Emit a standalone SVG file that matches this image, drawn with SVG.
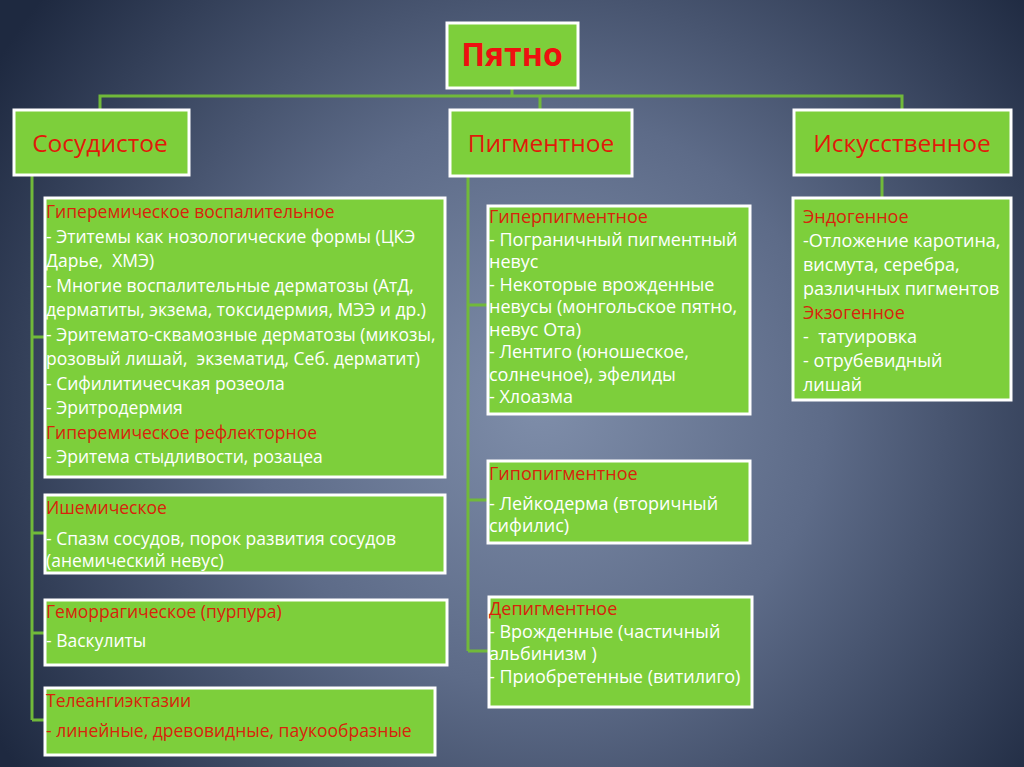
<svg xmlns="http://www.w3.org/2000/svg" width="1024" height="767" viewBox="0 0 1024 767">
<defs>
<radialGradient id="bg" cx="540" cy="400" r="640" gradientUnits="userSpaceOnUse">
<stop offset="0" stop-color="#7f8eaa"/>
<stop offset="0.45" stop-color="#5d6b88"/>
<stop offset="1" stop-color="#1e2940"/>
</radialGradient>
<style>
.box{fill:#7dcf3b;stroke:#ffffff;stroke-width:3}
.conn{fill:none;stroke:#71b93a;stroke-width:3}
.t{font-family:"Open Sans","Noto Sans",sans-serif;font-size:17.5px;fill:#ffffff;white-space:pre}
.m{font-size:18px}
.r{fill:#d8230b}
.head{font-family:"Open Sans","Noto Sans",sans-serif;font-size:24.5px;fill:#e01a0a;text-anchor:middle}
.title{font-family:"Open Sans","Noto Sans",sans-serif;font-size:32px;font-weight:bold;fill:#ee1010;text-anchor:middle}
</style>
</defs>
<rect x="0" y="0" width="1024" height="767" fill="url(#bg)"/>

<g id="connectors">
<path class="conn" d="M512 88 V96 M100 110 V96 H902 V110 M540 96 V110"/>
<path class="conn" d="M32 175 V720 M32 337 H46 M32 533 H46 M32 633 H46 M32 720 H46"/>
<path class="conn" d="M468 176 V651 M468 305 H489 M468 500 H489 M468 651 H489"/>
<path class="conn" d="M882 175 V198"/>
</g>

<g id="n-spot">
<rect class="box" x="447" y="23" width="131" height="65"/>
<text class="title" x="512" y="66">Пятно</text>
</g>

<g id="n-vascular">
<rect class="box" x="14" y="110" width="175" height="65"/>
<text class="head" x="100" y="152">Сосудистое</text>
</g>

<g id="n-pigment">
<rect class="box" x="450" y="110" width="182" height="66"/>
<text class="head" x="541" y="152">Пигментное</text>
</g>

<g id="n-artificial">
<rect class="box" x="794" y="110" width="217" height="65"/>
<text class="head" x="902" y="152">Искусственное</text>
</g>

<g id="n-hyperemic">
<rect class="box" x="45" y="198" width="400" height="279"/>
<text class="t r" x="46" y="218">Гиперемическое воспалительное</text>
<text class="t" x="46" y="242.5">- Этитемы как нозологические формы (ЦКЭ</text>
<text class="t" x="46" y="267">Дарье,  ХМЭ)</text>
<text class="t" x="46" y="291.5">- Многие воспалительные дерматозы (АтД,</text>
<text class="t" x="46" y="316">дерматиты, экзема, токсидермия, МЭЭ и др.)</text>
<text class="t" x="46" y="340.5">- Эритемато-сквамозные дерматозы (микозы,</text>
<text class="t" x="46" y="365">розовый лишай,  экзематид, Себ. дерматит)</text>
<text class="t" x="46" y="389.5">- Сифилитичесчкая розеола</text>
<text class="t" x="46" y="414">- Эритродермия</text>
<text class="t r" x="46" y="438.5">Гиперемическое рефлекторное</text>
<text class="t" x="46" y="463">- Эритема стыдливости, розацеа</text>
</g>

<g id="n-ischemic">
<rect class="box" x="45" y="495" width="400" height="78"/>
<text class="t r" x="46" y="514">Ишемическое</text>
<text class="t" x="46" y="545">- Спазм сосудов, порок развития сосудов</text>
<text class="t" x="46" y="567">(анемический невус)</text>
</g>

<g id="n-hemorrhagic">
<rect class="box" x="45" y="600" width="402" height="65"/>
<text class="t r" x="46" y="618">Геморрагическое (пурпура)</text>
<text class="t" x="46" y="647">- Васкулиты</text>
</g>

<g id="n-telangiectasia">
<rect class="box" x="45" y="688" width="390" height="67"/>
<text class="t r" x="46" y="707">Телеангиэктазии</text>
<text class="t r" x="46" y="737">- линейные, древовидные, паукообразные</text>
</g>

<g id="n-hyperpigment">
<rect class="box" x="488" y="206" width="262" height="208"/>
<text class="t m r" x="489" y="223">Гиперпигментное</text>
<text class="t m" x="489" y="246">- Пограничный пигментный</text>
<text class="t m" x="489" y="268">невус</text>
<text class="t m" x="489" y="291">- Некоторые врожденные</text>
<text class="t m" x="489" y="313">невусы (монгольское пятно,</text>
<text class="t m" x="489" y="336">невус Ота)</text>
<text class="t m" x="489" y="358">- Лентиго (юношеское,</text>
<text class="t m" x="489" y="381">солнечное), эфелиды</text>
<text class="t m" x="489" y="403">- Хлоазма</text>
</g>

<g id="n-hypopigment">
<rect class="box" x="488" y="461" width="262" height="82"/>
<text class="t m r" x="489" y="480">Гипопигментное</text>
<text class="t m" x="489" y="510">- Лейкодерма (вторичный</text>
<text class="t m" x="489" y="532">сифилис)</text>
</g>

<g id="n-depigment">
<rect class="box" x="489" y="597" width="263" height="110"/>
<text class="t m r" x="489" y="615">Депигментное</text>
<text class="t m" x="489" y="638">- Врожденные (частичный</text>
<text class="t m" x="489" y="660">альбинизм )</text>
<text class="t m" x="489" y="683">- Приобретенные (витилиго)</text>
</g>

<g id="n-endo-exo">
<rect class="box" x="793" y="198" width="218" height="202"/>
<text class="t m r" x="803" y="223">Эндогенное</text>
<text class="t m" x="803" y="247">-Отложение каротина,</text>
<text class="t m" x="803" y="271">висмута, серебра,</text>
<text class="t m" x="803" y="295">различных пигментов</text>
<text class="t m r" x="803" y="319">Экзогенное</text>
<text class="t m" x="803" y="343">-  татуировка</text>
<text class="t m" x="803" y="367">- отрубевидный</text>
<text class="t m" x="803" y="391">лишай</text>
</g>
</svg>
